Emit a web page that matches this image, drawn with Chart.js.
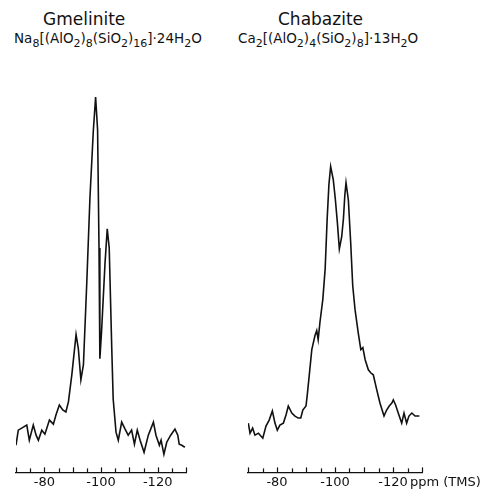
<!DOCTYPE html>
<html>
<head>
<meta charset="utf-8">
<script src="https://cdn.jsdelivr.net/npm/chart.js@4.4.0/dist/chart.umd.min.js"></script>
<style>
  body { margin: 0; background: #fff; width: 485px; height: 492px; position: relative; overflow: hidden; }
  .box { position: absolute; top: 0; height: 492px; }
  .ttl { position: absolute; font-family: 'DejaVu Sans', sans-serif; color: #111; white-space: nowrap; text-align: center; }
  .name { font-size: 17px; top: 9px; }
  .form { font-size: 13.5px; top: 30px; }
  .form sub { font-size: 11px; vertical-align: -4px; line-height: 0; }
</style>
</head>
<body>
<div class="ttl name" style="left:43px">Gmelinite</div>
<div class="ttl form" style="left:14px">Na<sub>8</sub>[(AlO<sub>2</sub>)<sub>8</sub>(SiO<sub>2</sub>)<sub>16</sub>]·24H<sub>2</sub>O</div>
<div class="ttl name" style="left:278px">Chabazite</div>
<div class="ttl form" style="left:238px">Ca<sub>2</sub>[(AlO<sub>2</sub>)<sub>4</sub>(SiO<sub>2</sub>)<sub>8</sub>]·13H<sub>2</sub>O</div>
<div class="box" style="left:0;width:235px"><canvas id="gme"></canvas></div>
<div class="box" style="left:235px;width:250px"><canvas id="cha"></canvas></div>
<script>
// 29Si shift (ppm vs TMS) and signal height (arbitrary units)
const gmePpm = [-70.0, -70.8, -72.6, -73.8, -74.7, -76.1, -77.1, -77.9, -79.1, -80.2,
  -81.8, -83.2, -84.1, -85.3, -86.5, -87.6, -88.5, -89.7, -91.2, -92.0,
  -92.9, -93.8, -95.0, -96.1, -97.3, -98.1, -98.8, -99.3, -99.6, -100.2,
  -101.4, -102.2, -102.9, -103.8, -104.3, -105.3, -106.1, -107.3, -108.5, -109.6,
  -110.8, -111.8, -112.8, -113.8, -115.2, -116.7, -118.5, -119.4, -120.6, -121.2,
  -122.2, -123.2, -124.6, -126.1, -127.1, -127.6, -128.5, -129.6];
const gmeSignal = [27, 42, 45, 47, 32, 47, 37, 32, 42, 38,
  52, 48, 57, 67, 62, 60, 70, 97, 137, 123,
  92, 107, 190, 273, 340, 373, 340, 223, 113, 140,
  207, 242, 223, 123, 73, 40, 32, 50, 43, 37,
  42, 28, 42, 32, 20, 37, 50, 37, 27, 32,
  18, 30, 37, 43, 37, 28, 27, 25];

const chaPpm = [-70.1, -70.7, -71.6, -72.4, -73.6, -75.1, -76.2, -77.3, -78.4, -79.3,
  -80.1, -81.0, -82.2, -83.1, -83.9, -85.1, -86.2, -87.3, -88.2, -88.9,
  -90.0, -90.4, -91.1, -92.0, -93.1, -93.7, -94.2, -94.8, -95.8, -96.6,
  -97.3, -97.9, -98.5, -99.4, -100.1, -100.8, -101.5, -102.3, -102.9, -103.4,
  -103.8, -104.6, -105.4, -106.1, -106.9, -108.0, -108.9, -109.6, -110.4, -111.5,
  -112.3, -113.2, -114.4, -115.5, -116.9, -117.8, -118.7, -119.6, -120.1, -120.9,
  -121.8, -123.0, -123.8, -124.7, -125.5, -126.5, -127.6, -129.1];
const chaSignal = [49, 39, 44, 37, 39, 34, 46, 52, 61, 49,
  42, 47, 49, 57, 66, 59, 56, 54, 54, 62,
  66, 76, 96, 122, 136, 141, 132, 149, 172, 202,
  252, 286, 304, 291, 272, 249, 222, 234, 252, 276,
  288, 271, 229, 186, 162, 139, 122, 124, 112, 102,
  99, 97, 82, 69, 56, 62, 66, 69, 72, 67,
  59, 49, 59, 49, 56, 59, 56, 56];

const labelled = [-80, -100, -120];
const tickFont = { family: "'DejaVu Sans', sans-serif", size: 13 };

// tick marks point up into the plot, as in the print
const upTicks = {
  id: 'upTicks',
  afterDraw(chart, args, opts) {
    const sc = chart.scales.x;
    const c = chart.ctx;
    c.save();
    c.strokeStyle = '#111';
    c.lineWidth = 1.2;
    sc.ticks.forEach(t => {
      const x = Math.round(sc.getPixelForValue(t.value)) + 0.5;
      const len = t.value % 10 === 0 ? 5 : 4;
      c.beginPath();
      c.moveTo(x, sc.top);
      c.lineTo(x, sc.top - len);
      c.stroke();
    });
    if (opts.unit) {
      c.font = "13px 'DejaVu Sans', sans-serif";
      c.fillStyle = '#111';
      c.textBaseline = 'middle';
      c.fillText(opts.unit, sc.getPixelForValue(-120) + 17, sc.top + 10);
    }
    c.restore();
  }
};

function spectrum(id, ppm, signal, padL, padR, unit) {
  return new Chart(document.getElementById(id), {
    type: 'line',
    data: {
      datasets: [{
        data: ppm.map((p, i) => ({ x: p, y: signal[i] })),
        borderColor: '#111',
        borderWidth: 1.6,
        pointRadius: 0,
        tension: 0,
        fill: false
      }]
    },
    options: {
      responsive: true,
      maintainAspectRatio: false,
      animation: false,
      layout: { padding: { left: padL, right: padR, top: 80, bottom: 0 } },
      plugins: { legend: { display: false }, tooltip: { enabled: false }, upTicks: { unit } },
      scales: {
        x: {
          type: 'linear', min: -130, max: -70, reverse: true,
          grid: { display: false, drawTicks: false, tickLength: 0 },
          border: { display: true, color: '#111', width: 1.2 },
          ticks: {
            stepSize: 5, autoSkip: false, maxRotation: 0, padding: 2,
            font: tickFont, color: '#111',
            callback: v => labelled.includes(v) ? String(v) : ''
          }
        },
        y: { display: false, min: 0, max: 390 }
      }
    },
    plugins: [upTicks]
  });
}

spectrum('gme', gmePpm, gmeSignal, 16, 49, '');
spectrum('cha', chaPpm, chaSignal, 13, 63, 'ppm (TMS)');
</script>
</body>
</html>
